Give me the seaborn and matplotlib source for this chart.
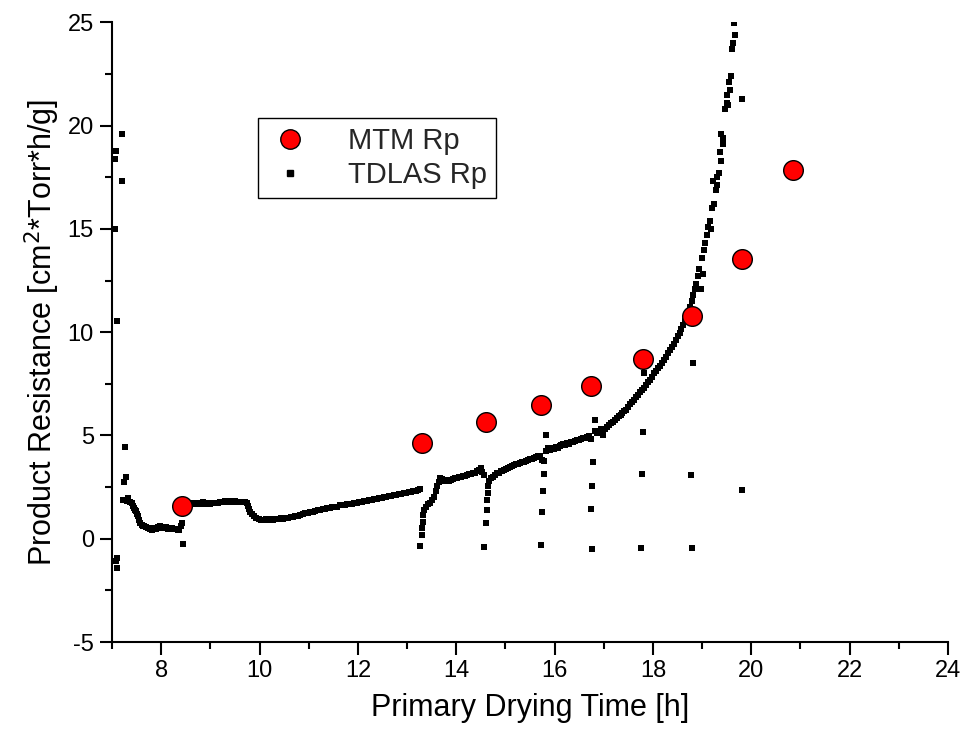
import numpy as np
import pandas as pd
import matplotlib
matplotlib.use("Agg")
import matplotlib.pyplot as plt
from matplotlib.lines import Line2D
from matplotlib.ticker import MultipleLocator
import seaborn as sns

# ---------------- data ----------------
mtm_x = [8.42, 13.31, 14.60, 15.73, 16.74, 17.79, 18.80, 19.82, 20.85]
mtm_y = [1.60, 4.63, 5.64, 6.48, 7.40, 8.72, 10.79, 13.53, 17.85]

# TDLAS Rp, read segment by segment
seg_a_x = [7.06, 7.08, 7.21, 7.21, 7.07, 7.11, 7.10, 7.09, 7.10, 7.27, 7.29, 7.24, 7.23, 7.30,
           7.33, 7.37, 7.40, 7.42, 7.44, 7.46, 7.48, 7.51, 7.53, 7.55, 7.57, 7.60, 7.63, 7.66,
           7.70, 7.74, 7.78, 7.82, 7.86, 7.90, 7.94, 7.98, 8.02, 8.06, 8.10, 8.14, 8.18, 8.22,
           8.26, 8.30, 8.34, 8.37, 8.40, 8.43, 8.45]
seg_a_y = [18.40, 18.75, 19.60, 17.30, 15.00, 10.55, -0.95, -1.10, -1.42, 4.45, 3.00, 2.75, 1.86, 1.85,
           1.97, 1.80, 1.72, 1.60, 1.48, 1.40, 1.32, 1.20, 1.08, 0.90, 0.76, 0.68, 0.62, 0.60,
           0.55, 0.50, 0.46, 0.44, 0.50, 0.48, 0.55, 0.60, 0.52, 0.50, 0.56, 0.48, 0.52, 0.50,
           0.45, 0.48, 0.42, 0.44, 0.60, 0.76, -0.24]

seg_b_x = [8.47, 8.49, 8.52, 8.56, 8.60, 8.65, 8.70, 8.75, 8.80, 8.85, 8.90, 8.95, 9.00, 9.05,
           9.10, 9.15, 9.20, 9.25, 9.30, 9.35, 9.40, 9.45, 9.50, 9.55, 9.60, 9.65, 9.70, 9.74,
           9.77, 9.79, 9.81, 9.84, 9.88, 9.93, 9.98, 10.03, 10.08, 10.13, 10.18, 10.23, 10.28,
           10.33, 10.38, 10.43, 10.48, 10.53, 10.58, 10.63, 10.68, 10.73, 10.78, 10.83, 10.88,
           10.93, 10.98, 11.03, 11.08, 11.13, 11.18, 11.23, 11.28, 11.33, 11.38, 11.43, 11.48,
           11.53, 11.58, 11.63, 11.68, 11.73, 11.78, 11.83, 11.88, 11.93, 11.98, 12.03, 12.08,
           12.13, 12.18, 12.23, 12.28, 12.33, 12.38, 12.43, 12.48, 12.53, 12.58, 12.63, 12.68,
           12.73, 12.78, 12.83, 12.88, 12.93, 12.98, 13.03, 13.08, 13.13, 13.18, 13.23, 13.26]
seg_b_y = [1.35, 1.50, 1.60, 1.65, 1.70, 1.72, 1.66, 1.74, 1.70, 1.76, 1.68, 1.73, 1.66, 1.71,
           1.75, 1.72, 1.80, 1.78, 1.84, 1.79, 1.83, 1.77, 1.81, 1.78, 1.80, 1.77, 1.79, 1.74,
           1.60, 1.45, 1.30, 1.18, 1.08, 1.00, 0.96, 0.92, 0.90, 0.95, 0.91, 0.95, 0.92,
           0.97, 0.94, 0.99, 0.96, 1.01, 1.02, 1.06, 1.05, 1.11, 1.12, 1.17, 1.19,
           1.23, 1.25, 1.29, 1.31, 1.36, 1.37, 1.41, 1.42, 1.46, 1.47, 1.51, 1.52,
           1.56, 1.56, 1.61, 1.62, 1.65, 1.66, 1.69, 1.70, 1.73, 1.74, 1.77, 1.78,
           1.81, 1.82, 1.86, 1.86, 1.91, 1.92, 1.96, 1.96, 2.01, 2.02, 2.06, 2.07,
           2.11, 2.12, 2.16, 2.16, 2.21, 2.22, 2.26, 2.27, 2.31, 2.32, 2.37, 2.40]

seg_c_x = [13.27, 13.30, 13.31, 13.32, 13.33, 13.35, 13.38, 13.42, 13.46, 13.50, 13.54, 13.58,
           13.61, 13.64, 13.67, 13.70, 13.74, 13.78, 13.82, 13.86, 13.90, 13.94, 13.98, 14.02,
           14.06, 14.10, 14.14, 14.18, 14.22, 14.26, 14.30, 14.34, 14.38, 14.42, 14.46, 14.50,
           14.53, 14.56]
seg_c_y = [-0.36, 0.19, 0.51, 0.83, 1.16, 1.40, 1.55, 1.68, 1.75, 1.88, 2.02, 2.30,
           2.55, 2.75, 2.95, 2.90, 2.80, 2.78, 2.82, 2.78, 2.86, 2.88, 2.93, 2.95,
           2.98, 3.01, 3.02, 3.06, 3.09, 3.13, 3.15, 3.19, 3.20, 3.30, 3.35, 3.42,
           3.25, 3.10]

seg_d_x = [14.57, 14.60, 14.62, 14.63, 14.65, 14.64, 14.67, 14.70, 14.74, 14.78, 14.82, 14.86,
           14.90, 14.94, 14.98, 15.02, 15.06, 15.10, 15.14, 15.18, 15.22, 15.26, 15.30, 15.34,
           15.38, 15.42, 15.46, 15.50, 15.54, 15.58, 15.62, 15.66, 15.70, 15.74,
           15.73, 15.74, 15.76, 15.78, 15.83]
seg_d_y = [-0.42, 0.76, 1.37, 1.89, 2.20, 2.53, 2.80, 2.95, 3.00, 3.10, 3.16, 3.20,
           3.26, 3.30, 3.33, 3.36, 3.41, 3.45, 3.51, 3.55, 3.60, 3.63, 3.66, 3.70,
           3.72, 3.77, 3.80, 3.86, 3.88, 3.93, 3.95, 3.99, 4.00, 3.80,
           -0.32, 1.29, 2.32, 3.13, 5.03]

seg_e_x = [15.78, 15.82, 15.86, 15.90, 15.94, 15.98, 16.02, 16.06, 16.10, 16.14, 16.18, 16.22,
           16.26, 16.30, 16.34, 16.38, 16.42, 16.46, 16.50, 16.54, 16.58, 16.62, 16.66, 16.70,
           16.74, 16.76, 16.74, 16.77, 16.78, 16.82]
seg_e_y = [3.74, 4.25, 4.40, 4.30, 4.40, 4.35, 4.45, 4.40, 4.50, 4.55, 4.60, 4.55,
           4.65, 4.60, 4.70, 4.68, 4.75, 4.80, 4.78, 4.85, 4.88, 4.90, 4.92, 4.95,
           4.85, -0.50, 1.43, 2.57, 3.71, 5.76]

seg_f_x = [16.82, 16.86, 16.90, 16.94, 16.98, 17.02, 17.06, 17.10, 17.14, 17.18, 17.22, 17.26,
           17.30, 17.34, 17.38, 17.42, 17.46, 17.50, 17.54, 17.58, 17.62, 17.66, 17.70, 17.74,
           17.78, 17.75, 17.78, 17.79, 17.82]
seg_f_y = [5.20, 5.10, 5.20, 5.30, 5.00, 5.30, 5.40, 5.50, 5.60, 5.65, 5.75, 5.85,
           5.95, 6.00, 6.10, 6.20, 6.25, 6.40, 6.50, 6.60, 6.70, 6.85, 6.95, 7.10,
           7.20, -0.45, 3.14, 5.19, 8.00]

seg_g_x = [17.82, 17.86, 17.90, 17.94, 17.98, 18.02, 18.06, 18.10, 18.14, 18.18, 18.22, 18.26,
           18.30, 18.34, 18.38, 18.42, 18.46, 18.50, 18.54, 18.58, 18.62, 18.66, 18.70, 18.73,
           18.76, 18.79, 18.82, 18.85, 18.88, 18.91, 18.94, 18.97, 19.00, 19.02, 19.03, 19.06,
           19.10, 19.11, 19.16, 19.18, 19.20, 19.23, 19.25, 19.28, 19.30, 19.31, 19.34, 19.36,
           19.38, 19.39, 19.42, 19.43, 19.46, 19.50, 19.50, 19.53, 19.55, 19.57, 19.58, 19.60,
           19.62, 19.66, 19.65, 18.82, 18.78, 18.80, 19.82, 19.82]
seg_g_y = [7.30, 7.45, 7.60, 7.70, 7.85, 8.00, 8.10, 8.25, 8.35, 8.50, 8.65, 8.80,
           9.00, 9.15, 9.30, 9.45, 9.60, 9.80, 9.95, 10.15, 10.35, 10.55, 10.75, 10.95,
           11.20, 11.50, 11.80, 12.10, 12.35, 12.70, 13.05, 12.10, 13.60, 12.80, 14.00, 14.30,
           14.70, 15.10, 15.40, 15.00, 16.00, 17.30, 16.20, 16.90, 17.50, 17.10, 17.70, 18.70,
           18.30, 19.60, 19.10, 19.40, 20.80, 21.10, 21.50, 21.00, 22.10, 21.70, 22.40, 23.70,
           24.00, 24.40, 24.95, 8.50, 3.08, -0.45, 21.30, 2.37]

tdlas_x = seg_a_x + seg_b_x + seg_c_x + seg_d_x + seg_e_x + seg_f_x + seg_g_x
tdlas_y = seg_a_y + seg_b_y + seg_c_y + seg_d_y + seg_e_y + seg_f_y + seg_g_y

mtm_df = pd.DataFrame({"t": mtm_x, "rp": mtm_y})
tdlas_df = pd.DataFrame({"t": tdlas_x, "rp": tdlas_y})

# ---------------- style ----------------
sns.set_theme(style="ticks")
plt.rcParams["font.family"] = ["Liberation Sans", "DejaVu Sans"]
plt.rcParams["axes.unicode_minus"] = False

fig = plt.figure(figsize=(9.65, 7.40), dpi=100)
ax = fig.add_axes([0.1161, 0.1324, 0.8663, 0.8375])

sns.scatterplot(data=tdlas_df, x="t", y="rp", ax=ax, marker="s", s=14,
                color="black", edgecolor="black", linewidth=0, zorder=2)
sns.scatterplot(data=mtm_df, x="t", y="rp", ax=ax, marker="o", s=200,
                color="#FF0000", edgecolor="black", linewidth=1.0, zorder=3)

ax.set_xlim(7, 24)
ax.set_ylim(-5, 25)
ax.xaxis.set_major_locator(MultipleLocator(2))
ax.xaxis.set_minor_locator(MultipleLocator(1))
ax.yaxis.set_major_locator(MultipleLocator(5))
ax.yaxis.set_minor_locator(MultipleLocator(2.5))
ax.set_xticks([8, 10, 12, 14, 16, 18, 20, 22, 24])

for s in ["top", "right"]:
    ax.spines[s].set_visible(False)
for s in ["left", "bottom"]:
    ax.spines[s].set_linewidth(1.5)
    ax.spines[s].set_color("black")

ax.tick_params(axis="both", which="major", direction="out", length=9, width=1.5,
               labelsize=17, color="black", labelcolor="black", pad=4)
ax.tick_params(axis="both", which="minor", direction="out", length=5, width=1.5,
               color="black")

ax.set_xlabel("Primary Drying Time [h]", fontsize=22, labelpad=8, color="black")
ax.set_ylabel("Product Resistance [cm$^{2}$*Torr*h/g]", fontsize=22, labelpad=4, color="black")
ax.grid(False)

handles = [
    Line2D([], [], linestyle="none", marker="o", markersize=14,
           markerfacecolor="#FF0000", markeredgecolor="black", markeredgewidth=1.0),
    Line2D([], [], linestyle="none", marker="s", markersize=4.5,
           markerfacecolor="black", markeredgecolor="black"),
]
leg = ax.legend(handles, ["MTM Rp", "TDLAS Rp"], loc="upper left",
                bbox_to_anchor=(0.1746, 0.845), borderaxespad=0, fontsize=21,
                frameon=True, fancybox=False, shadow=False, labelspacing=0.2,
                handletextpad=1.2, handlelength=1.6, borderpad=0.3)
leg.get_frame().set_edgecolor("black")
leg.get_frame().set_linewidth(1.0)
leg.get_frame().set_alpha(1)

fig.savefig("out.png", dpi=100)
